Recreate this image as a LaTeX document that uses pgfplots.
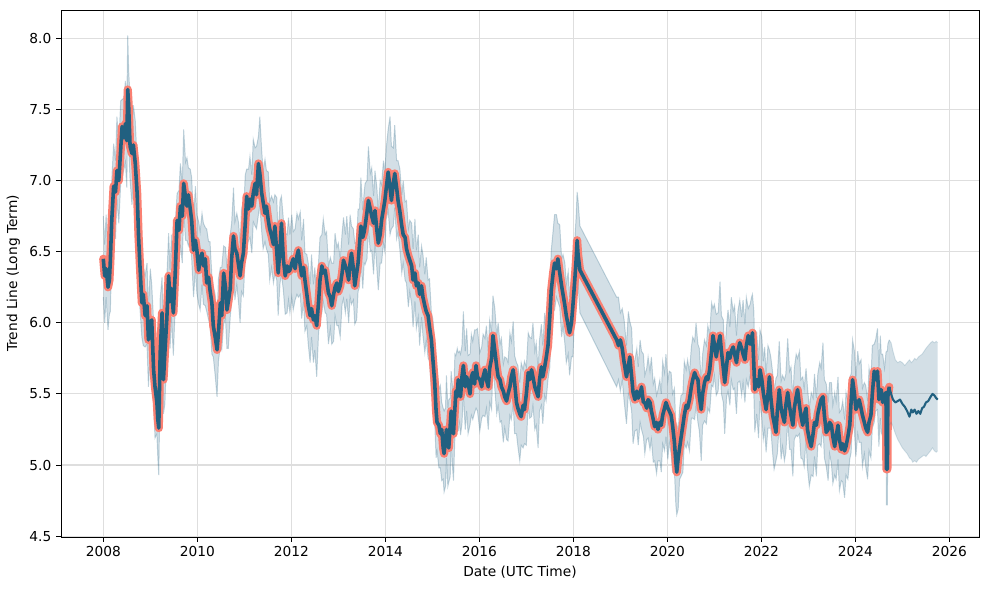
\documentclass[border=0pt]{standalone}
\usepackage{fontspec}
\setmainfont{DejaVu Sans}
\usepackage{pgfplots}
\usepackage{pgfplotstable}
\pgfplotsset{compat=1.18}
\usepgfplotslibrary{fillbetween}

\definecolor{trend}{RGB}{33,96,128}
\definecolor{glow}{RGB}{250,128,114}

% history: date, trend, lower, upper
\pgfplotstableread{
x y lo hi
2008.00 6.45 6.18 6.75
2008.03 6.33 6.00 6.55
2008.06 6.38 6.18 6.76
2008.10 6.25 5.95 6.50
2008.13 6.30 6.06 6.64
2008.15 6.44 6.08 6.63
2008.18 6.72 6.50 7.00
2008.22 6.96 6.69 7.26
2008.26 6.92 6.59 7.14
2008.29 7.07 6.87 7.45
2008.33 7.00 6.70 7.25
2008.37 7.22 6.98 7.56
2008.40 7.38 7.02 7.57
2008.44 7.30 7.08 7.58
2008.47 7.40 7.13 7.70
2008.50 7.28 6.95 7.50
2008.52 7.64 7.44 8.02
2008.54 7.52 7.22 7.77
2008.57 7.24 7.00 7.58
2008.61 7.19 6.83 7.38
2008.64 7.25 7.03 7.53
2008.68 7.12 6.85 7.42
2008.72 6.91 6.58 7.13
2008.75 6.61 6.41 6.99
2008.78 6.40 6.10 6.65
2008.82 6.14 5.90 6.48
2008.85 6.20 5.84 6.39
2008.89 6.05 5.83 6.33
2008.93 6.12 5.85 6.42
2008.96 5.88 5.55 6.10
2009.00 6.00 5.80 6.38
2009.03 6.02 5.72 6.27
2009.07 5.67 5.43 6.01
2009.10 5.55 5.19 5.74
2009.14 5.44 5.22 5.72
2009.16 5.32 5.05 5.62
2009.18 5.26 4.93 5.48
2009.21 5.79 5.59 6.17
2009.25 6.07 5.77 6.32
2009.28 5.60 5.36 5.94
2009.31 5.79 5.43 5.98
2009.35 6.02 5.80 6.30
2009.39 6.33 6.06 6.63
2009.42 6.15 5.82 6.37
2009.45 6.24 6.04 6.62
2009.49 6.07 5.77 6.32
2009.53 6.35 6.11 6.69
2009.57 6.72 6.36 6.91
2009.61 6.65 6.43 6.93
2009.64 6.82 6.55 7.12
2009.68 6.75 6.42 6.97
2009.71 6.98 6.78 7.36
2009.75 6.88 6.58 7.13
2009.78 6.82 6.58 7.16
2009.81 6.90 6.54 7.09
2009.85 6.80 6.58 7.08
2009.88 6.72 6.45 7.02
2009.92 6.51 6.18 6.73
2009.96 6.58 6.38 6.96
2009.99 6.51 6.21 6.76
2010.03 6.37 6.13 6.71
2010.06 6.45 6.09 6.64
2010.10 6.49 6.27 6.77
2010.13 6.40 6.13 6.70
2010.17 6.45 6.12 6.67
2010.20 6.28 6.08 6.66
2010.24 6.32 6.02 6.57
2010.27 6.23 5.99 6.57
2010.31 6.14 5.78 6.33
2010.34 5.98 5.76 6.26
2010.38 5.90 5.63 6.20
2010.42 5.81 5.48 6.03
2010.45 5.93 5.73 6.31
2010.49 6.14 5.84 6.39
2010.52 6.05 5.81 6.39
2010.56 6.35 5.99 6.54
2010.60 6.25 6.03 6.53
2010.63 6.09 5.82 6.39
2010.66 6.15 5.82 6.37
2010.70 6.24 6.04 6.62
2010.73 6.45 6.15 6.70
2010.77 6.61 6.37 6.95
2010.80 6.52 6.16 6.71
2010.84 6.49 6.27 6.77
2010.88 6.40 6.13 6.70
2010.91 6.33 6.00 6.55
2010.94 6.42 6.22 6.80
2010.98 6.49 6.19 6.74
2011.02 6.70 6.46 7.04
2011.05 6.89 6.53 7.08
2011.09 6.80 6.58 7.08
2011.12 6.87 6.60 7.17
2011.16 6.82 6.49 7.04
2011.19 6.91 6.71 7.29
2011.23 6.98 6.68 7.23
2011.26 6.90 6.66 7.24
2011.30 7.12 6.76 7.31
2011.33 7.05 6.83 7.45
2011.37 6.91 6.64 7.21
2011.40 6.85 6.52 7.07
2011.44 6.77 6.57 7.15
2011.47 6.82 6.52 7.07
2011.51 6.72 6.48 7.06
2011.54 6.66 6.30 6.85
2011.58 6.61 6.39 6.89
2011.62 6.55 6.28 6.85
2011.65 6.68 6.35 6.90
2011.69 6.50 6.30 6.88
2011.72 6.35 6.05 6.60
2011.76 6.52 6.28 6.86
2011.79 6.70 6.34 6.89
2011.83 6.45 6.23 6.73
2011.87 6.33 6.06 6.63
2011.91 6.40 6.07 6.62
2011.94 6.36 6.16 6.74
2011.97 6.37 6.07 6.62
2012.01 6.42 6.18 6.76
2012.04 6.45 6.09 6.64
2012.08 6.38 6.16 6.66
2012.12 6.47 6.20 6.77
2012.15 6.51 6.18 6.73
2012.19 6.40 6.20 6.78
2012.22 6.33 6.03 6.58
2012.26 6.39 6.15 6.73
2012.29 6.30 5.94 6.49
2012.33 6.20 5.98 6.48
2012.36 6.12 5.85 6.42
2012.40 6.05 5.72 6.27
2012.43 6.10 5.90 6.48
2012.47 6.02 5.72 6.27
2012.50 6.05 5.81 6.39
2012.54 5.98 5.62 6.17
2012.58 6.15 5.93 6.43
2012.61 6.30 6.03 6.60
2012.65 6.40 6.07 6.62
2012.68 6.35 6.15 6.73
2012.72 6.37 6.07 6.62
2012.75 6.30 6.06 6.64
2012.79 6.21 5.85 6.40
2012.83 6.18 5.96 6.46
2012.86 6.12 5.85 6.42
2012.90 6.20 5.87 6.42
2012.93 6.25 6.05 6.63
2012.97 6.28 5.98 6.53
2013.00 6.22 5.98 6.56
2013.04 6.26 5.90 6.45
2013.08 6.35 6.13 6.63
2013.11 6.44 6.17 6.74
2013.15 6.40 6.07 6.62
2013.18 6.37 6.17 6.75
2013.22 6.30 6.00 6.55
2013.25 6.42 6.18 6.76
2013.28 6.49 6.13 6.68
2013.32 6.38 6.16 6.66
2013.35 6.26 5.99 6.56
2013.39 6.35 6.02 6.57
2013.42 6.42 6.22 6.80
2013.45 6.55 6.25 6.80
2013.48 6.68 6.44 7.02
2013.52 6.60 6.24 6.79
2013.55 6.64 6.42 6.92
2013.57 6.68 6.41 6.98
2013.61 6.78 6.45 7.00
2013.64 6.86 6.66 7.24
2013.68 6.80 6.50 7.05
2013.71 6.75 6.51 7.09
2013.75 6.70 6.34 6.89
2013.78 6.79 6.57 7.07
2013.82 6.65 6.38 6.95
2013.85 6.56 6.23 6.78
2013.89 6.62 6.42 7.00
2013.92 6.72 6.42 6.97
2013.96 6.80 6.56 7.14
2013.99 6.86 6.50 7.05
2014.02 6.95 6.73 7.23
2014.06 7.06 6.79 7.36
2014.10 6.95 6.62 7.45
2014.13 6.86 6.66 7.24
2014.17 6.98 6.68 7.23
2014.20 7.05 6.81 7.39
2014.24 6.95 6.59 7.14
2014.27 6.86 6.64 7.14
2014.31 6.78 6.51 7.08
2014.35 6.68 6.35 6.90
2014.38 6.62 6.42 7.00
2014.42 6.60 6.30 6.85
2014.45 6.52 6.28 6.86
2014.49 6.47 6.11 6.66
2014.52 6.44 6.22 6.72
2014.56 6.40 6.13 6.70
2014.59 6.30 5.97 6.52
2014.63 6.35 6.15 6.73
2014.66 6.26 5.96 6.51
2014.70 6.28 6.04 6.62
2014.73 6.20 5.84 6.39
2014.77 6.26 6.04 6.54
2014.80 6.18 5.91 6.48
2014.84 6.12 5.79 6.34
2014.87 6.08 5.88 6.46
2014.91 6.05 5.75 6.30
2014.94 5.97 5.73 6.31
2014.98 5.88 5.52 6.07
2015.01 5.75 5.53 6.03
2015.05 5.58 5.31 5.88
2015.08 5.38 5.05 5.60
2015.10 5.30 5.10 5.68
2015.14 5.28 4.98 5.53
2015.17 5.22 4.98 5.56
2015.20 5.25 4.89 5.44
2015.23 5.12 4.90 5.40
2015.25 5.08 4.81 5.38
2015.28 5.18 4.85 5.40
2015.30 5.25 5.05 5.63
2015.33 5.15 4.85 5.40
2015.35 5.12 4.88 5.46
2015.38 5.28 4.92 5.47
2015.40 5.38 5.16 5.66
2015.43 5.25 4.98 5.55
2015.45 5.22 4.89 5.44
2015.48 5.40 5.20 5.78
2015.50 5.52 5.22 5.77
2015.53 5.48 5.24 5.82
2015.55 5.60 5.24 5.79
2015.58 5.52 5.30 5.80
2015.60 5.48 5.21 5.78
2015.63 5.62 5.29 5.84
2015.66 5.70 5.50 6.08
2015.70 5.55 5.25 5.80
2015.73 5.62 5.38 5.96
2015.76 5.58 5.22 5.77
2015.80 5.50 5.28 5.78
2015.83 5.62 5.35 5.92
2015.86 5.65 5.32 5.87
2015.90 5.57 5.37 5.95
2015.93 5.70 5.40 5.95
2015.96 5.62 5.38 5.96
2016.01 5.60 5.24 5.79
2016.05 5.55 5.33 5.83
2016.08 5.62 5.35 5.92
2016.12 5.67 5.34 5.89
2016.15 5.60 5.40 5.98
2016.19 5.55 5.25 5.80
2016.22 5.68 5.44 6.02
2016.26 5.75 5.39 5.94
2016.29 5.91 5.69 6.19
2016.33 5.80 5.53 6.10
2016.37 5.69 5.36 5.91
2016.40 5.62 5.42 6.00
2016.44 5.60 5.30 5.85
2016.47 5.55 5.31 5.89
2016.51 5.52 5.16 5.71
2016.54 5.48 5.26 5.76
2016.58 5.45 5.18 5.75
2016.61 5.50 5.17 5.72
2016.65 5.55 5.35 5.93
2016.68 5.62 5.32 5.87
2016.72 5.67 5.43 6.01
2016.75 5.58 5.22 5.77
2016.79 5.44 5.22 5.72
2016.82 5.40 5.13 5.70
2016.86 5.36 5.03 5.58
2016.89 5.34 5.14 5.72
2016.93 5.42 5.12 5.67
2016.96 5.39 5.15 5.73
2017.00 5.50 5.14 5.69
2017.04 5.65 5.43 5.93
2017.07 5.60 5.33 5.90
2017.11 5.67 5.34 5.89
2017.14 5.62 5.42 6.00
2017.18 5.55 5.25 5.80
2017.21 5.52 5.28 5.86
2017.25 5.48 5.12 5.67
2017.28 5.60 5.38 5.88
2017.32 5.69 5.42 5.99
2017.35 5.62 5.29 5.84
2017.39 5.69 5.49 6.07
2017.42 5.75 5.45 6.00
2017.46 5.84 5.60 6.18
2017.50 6.05 5.69 6.24
2017.53 6.23 6.01 6.51
2017.57 6.35 6.08 6.65
2017.60 6.42 6.09 6.76
2017.64 6.38 6.18 6.76
2017.67 6.45 6.15 6.70
2017.71 6.35 6.11 6.69
2017.75 6.26 5.90 6.45
2017.78 6.20 5.98 6.48
2017.82 6.12 5.85 6.42
2017.85 6.05 5.72 6.27
2017.89 5.98 5.78 6.36
2017.92 5.93 5.63 6.18
2017.96 6.00 5.76 6.34
2017.99 6.12 5.76 6.31
2018.03 6.30 6.08 6.58
2018.06 6.45 6.18 6.75
2018.08 6.58 6.25 6.92
2018.10 6.48 6.28 6.86
2018.14 6.37 6.07 6.68
2018.92 5.88 5.55 6.18
2018.96 5.84 5.60 6.18
2019.00 5.88 5.52 6.07
2019.04 5.82 5.60 6.10
2019.08 5.72 5.45 6.02
2019.13 5.62 5.29 5.84
2019.17 5.70 5.50 6.08
2019.20 5.76 5.46 6.01
2019.24 5.62 5.38 5.96
2019.27 5.51 5.15 5.70
2019.31 5.46 5.24 5.74
2019.35 5.52 5.25 5.82
2019.38 5.47 5.14 5.69
2019.42 5.50 5.30 5.88
2019.45 5.55 5.25 5.80
2019.49 5.44 5.20 5.78
2019.52 5.44 5.08 5.63
2019.56 5.40 5.18 5.68
2019.59 5.46 5.19 5.76
2019.63 5.44 5.11 5.66
2019.66 5.38 5.18 5.76
2019.70 5.32 5.02 5.57
2019.73 5.27 5.03 5.61
2019.77 5.30 4.94 5.49
2019.80 5.25 5.03 5.53
2019.84 5.30 5.03 5.60
2019.87 5.28 4.95 5.50
2019.90 5.35 5.15 5.73
2019.94 5.40 5.10 5.65
2019.97 5.44 5.20 5.78
2020.01 5.40 5.04 5.59
2020.04 5.38 5.16 5.66
2020.08 5.35 5.08 5.65
2020.11 5.28 4.95 5.50
2020.15 5.16 4.96 5.54
2020.18 5.02 4.72 5.27
2020.20 4.95 4.65 5.29
2020.23 5.05 4.69 5.24
2020.26 5.12 4.90 5.40
2020.29 5.19 4.92 5.49
2020.33 5.28 4.95 5.50
2020.36 5.35 5.15 5.73
2020.40 5.42 5.12 5.67
2020.43 5.40 5.16 5.74
2020.47 5.46 5.10 5.65
2020.51 5.55 5.33 5.83
2020.54 5.60 5.33 5.90
2020.58 5.65 5.32 5.87
2020.61 5.62 5.42 6.00
2020.65 5.60 5.30 5.85
2020.68 5.48 5.24 5.82
2020.72 5.39 5.03 5.58
2020.75 5.50 5.28 5.78
2020.79 5.58 5.31 5.88
2020.83 5.62 5.29 5.84
2020.86 5.60 5.40 5.98
2020.90 5.67 5.37 5.92
2020.94 5.80 5.56 6.14
2020.97 5.91 5.55 6.10
2021.00 5.85 5.63 6.13
2021.04 5.76 5.49 6.06
2021.08 5.85 5.52 6.07
2021.12 5.91 5.71 6.29
2021.15 5.80 5.50 6.05
2021.19 5.68 5.44 6.02
2021.22 5.58 5.22 5.77
2021.26 5.70 5.48 5.98
2021.29 5.79 5.52 6.09
2021.33 5.75 5.42 5.97
2021.36 5.80 5.60 6.18
2021.40 5.83 5.53 6.08
2021.43 5.78 5.54 6.12
2021.47 5.72 5.36 5.91
2021.50 5.80 5.58 6.08
2021.54 5.86 5.59 6.16
2021.58 5.82 5.49 6.04
2021.61 5.78 5.58 6.16
2021.65 5.74 5.44 5.99
2021.68 5.84 5.60 6.18
2021.72 5.91 5.55 6.10
2021.76 5.85 5.63 6.13
2021.79 5.88 5.61 6.18
2021.81 5.93 5.60 6.20
2021.84 5.70 5.50 6.08
2021.86 5.53 5.23 5.78
2021.90 5.60 5.36 5.94
2021.94 5.55 5.19 5.74
2021.97 5.67 5.45 5.95
2022.01 5.60 5.33 5.90
2022.04 5.51 5.18 5.73
2022.07 5.45 5.25 5.83
2022.10 5.39 5.09 5.64
2022.14 5.50 5.26 5.84
2022.17 5.62 5.26 5.81
2022.20 5.48 5.26 5.76
2022.24 5.35 5.08 5.65
2022.27 5.30 4.97 5.52
2022.31 5.23 5.03 5.61
2022.34 5.38 5.08 5.63
2022.38 5.53 5.29 5.87
2022.42 5.40 5.04 5.59
2022.45 5.35 5.13 5.63
2022.49 5.30 5.03 5.60
2022.52 5.42 5.09 5.64
2022.56 5.51 5.31 5.89
2022.60 5.41 5.11 5.66
2022.63 5.35 5.11 5.69
2022.67 5.28 4.92 5.47
2022.70 5.40 5.18 5.68
2022.74 5.48 5.21 5.78
2022.77 5.53 5.20 5.75
2022.81 5.42 5.22 5.80
2022.84 5.35 5.05 5.60
2022.88 5.28 5.04 5.62
2022.91 5.35 4.99 5.54
2022.95 5.40 5.18 5.68
2022.98 5.25 4.98 5.55
2023.02 5.18 4.85 5.40
2023.06 5.13 4.93 5.51
2023.10 5.22 4.92 5.47
2023.13 5.30 5.06 5.64
2023.17 5.28 4.92 5.47
2023.20 5.36 5.14 5.64
2023.24 5.42 5.15 5.72
2023.27 5.46 5.13 5.68
2023.31 5.48 5.28 5.86
2023.34 5.35 5.05 5.60
2023.38 5.23 4.99 5.57
2023.42 5.25 4.89 5.44
2023.45 5.30 5.08 5.58
2023.49 5.28 5.01 5.58
2023.52 5.20 4.87 5.42
2023.56 5.13 4.93 5.51
2023.59 5.20 4.90 5.45
2023.63 5.28 5.04 5.62
2023.66 5.18 4.82 5.37
2023.70 5.11 4.89 5.39
2023.73 5.15 4.88 5.45
2023.77 5.10 4.77 5.32
2023.80 5.13 4.93 5.51
2023.84 5.20 4.90 5.45
2023.88 5.28 5.04 5.62
2023.91 5.45 5.09 5.64
2023.94 5.60 5.38 5.88
2023.98 5.50 5.23 5.80
2024.01 5.39 5.06 5.61
2024.05 5.42 5.22 5.80
2024.08 5.46 5.16 5.71
2024.12 5.40 5.16 5.74
2024.15 5.35 4.99 5.54
2024.19 5.30 5.08 5.58
2024.22 5.26 4.99 5.56
2024.26 5.23 4.90 5.45
2024.29 5.30 5.10 5.68
2024.33 5.35 5.05 5.60
2024.36 5.50 5.26 5.84
2024.40 5.66 5.30 5.85
2024.43 5.60 5.38 5.88
2024.47 5.66 5.39 5.96
2024.50 5.46 5.13 5.68
2024.53 5.53 5.33 5.91
2024.55 5.53 5.23 5.78
2024.58 5.44 5.20 5.78
2024.62 5.49 5.13 5.68
2024.65 5.51 5.29 5.79
2024.66 4.97 4.72 5.80
2024.68 4.97 4.72 5.80
2024.69 5.48 5.22 5.85
2024.72 5.55 5.28 5.88
}\hist

% forecast: date, trend, lower, upper
\pgfplotstableread{
x y lo hi
2024.72 5.55 5.28 5.88
2024.76 5.50 5.30 5.86
2024.80 5.46 5.27 5.80
2024.85 5.44 5.22 5.74
2024.90 5.45 5.18 5.72
2024.95 5.46 5.15 5.73
2025.00 5.43 5.12 5.72
2025.05 5.41 5.10 5.70
2025.10 5.38 5.08 5.72
2025.15 5.34 5.05 5.74
2025.19 5.39 5.04 5.72
2025.22 5.37 5.02 5.73
2025.26 5.39 5.03 5.75
2025.30 5.36 5.02 5.74
2025.34 5.38 5.04 5.76
2025.38 5.36 5.05 5.77
2025.42 5.40 5.06 5.78
2025.46 5.41 5.07 5.80
2025.50 5.44 5.06 5.82
2025.55 5.45 5.08 5.84
2025.60 5.48 5.10 5.86
2025.64 5.50 5.12 5.87
2025.68 5.49 5.10 5.86
2025.72 5.47 5.09 5.87
2025.75 5.46 5.10 5.86
}\fcst

\begin{document}
\begin{tikzpicture}
% years are plotted as offsets from 2000
\begin{axis}[
    at={(0,0)}, anchor=south west,
    scale only axis, width=667.64pt, height=383.27pt,
    xmin=7.10, xmax=26.63,
    ymin=4.494, ymax=8.199,
    xtick={8,10,12,14,16,18,20,22,24,26},
    xticklabels={2008,2010,2012,2014,2016,2018,2020,2022,2024,2026},
    ytick={4.5,5.0,5.5,6.0,6.5,7.0,7.5,8.0},
    xtick pos=bottom, ytick pos=left,
    tick align=outside,
    major tick length=3.5pt,
    tick style={black, line width=0.7pt},
    axis line style={black, line width=0.7pt},
    grid=major,
    grid style={black!13, line width=0.8pt},
    no markers,
    /pgf/number format/assume math mode=true,
    y tick label style={/pgf/number format/.cd, fixed, fixed zerofill, precision=1},
    tick label style={font=\fontsize{10}{12}\selectfont},
    xlabel={Date (UTC Time)},
    ylabel={Trend Line (Long Term)},
    label style={font=\fontsize{10}{12}\selectfont},
]
% uncertainty band
\addplot[name path=hi, draw=none] table[x expr=\thisrow{x}-2000, y=hi]{\hist};
\addplot[name path=lo, draw=none] table[x expr=\thisrow{x}-2000, y=lo]{\hist};
\addplot[fill=trend, fill opacity=0.2, draw=none] fill between[of=hi and lo];
\addplot[trend, draw opacity=0.25, line width=0.7pt] table[x expr=\thisrow{x}-2000, y=hi]{\hist};
\addplot[trend, draw opacity=0.25, line width=0.7pt] table[x expr=\thisrow{x}-2000, y=lo]{\hist};

% trend line with its outline
\addplot[glow, line width=6pt, line join=round, line cap=round] table[x expr=\thisrow{x}-2000, y=y]{\hist};
\addplot[trend, line width=2.6pt, line join=round] table[x expr=\thisrow{x}-2000, y=y]{\hist};

% forecast
\addplot[name path=fhi, draw=none] table[x expr=\thisrow{x}-2000, y=hi]{\fcst};
\addplot[name path=flo, draw=none] table[x expr=\thisrow{x}-2000, y=lo]{\fcst};
\addplot[fill=trend, fill opacity=0.2, draw=none] fill between[of=fhi and flo];
\addplot[trend, draw opacity=0.15, line width=0.7pt] table[x expr=\thisrow{x}-2000, y=hi]{\fcst};
\addplot[trend, draw opacity=0.15, line width=0.7pt] table[x expr=\thisrow{x}-2000, y=lo]{\fcst};
\addplot[trend, line width=1.5pt, line join=round] table[x expr=\thisrow{x}-2000, y=y]{\fcst};
\end{axis}
\pgfresetboundingbox
\path[use as bounding box] (-44.36pt,-38.55pt) rectangle (674.9pt,390.55pt);
\end{tikzpicture}
\end{document}
